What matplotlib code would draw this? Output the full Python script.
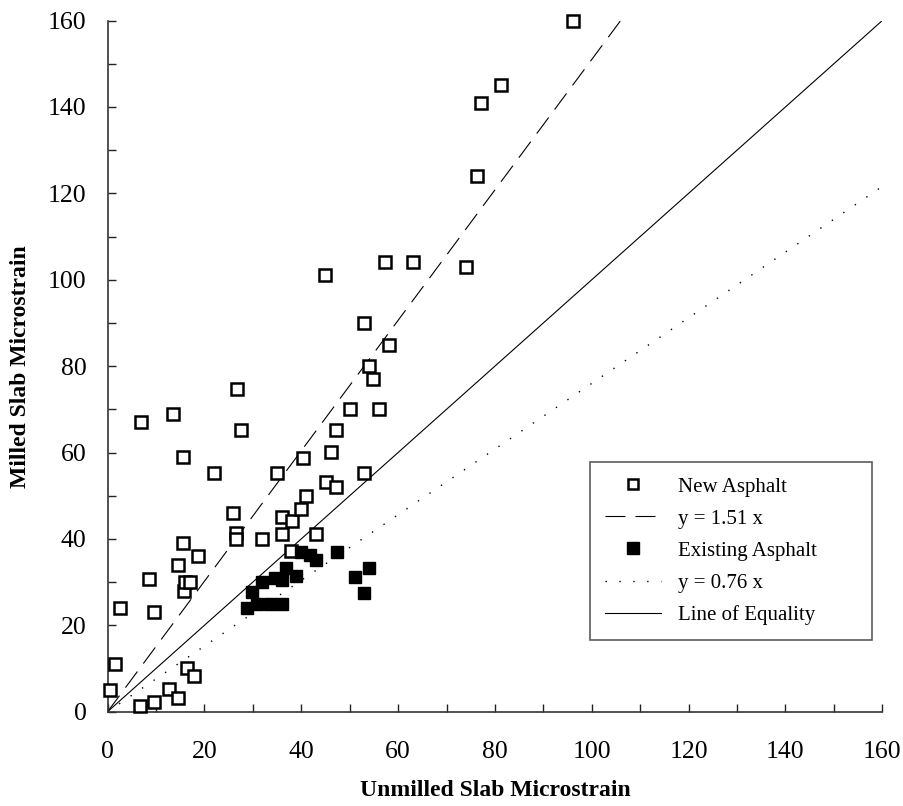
import matplotlib.pyplot as plt
import numpy as np

plt.rcParams['font.family'] = ['Liberation Serif', 'DejaVu Serif']

# New Asphalt (open squares)
new_x = [0.5, 1.5, 2.5, 6.7, 7, 8.5, 9.6, 9.5, 12.7, 13.5, 14.6, 14.6, 15.7, 16, 15.6, 15.5,
         16.5, 17, 17.8, 18.7, 22, 25.8, 26.6, 26.6, 26.8, 27.6, 31.9, 35, 36.1, 36.1, 38,
         37.8, 40, 40.4, 41, 43.1, 45, 45.2, 46.1, 47.2, 47.1, 50, 53, 53, 54, 54.9, 56.1,
         57.3, 58.1, 63, 74, 76.2, 77.1, 81.2, 96.2]
new_y = [5, 11, 24, 1.3, 67, 30.8, 2.3, 23, 5.2, 69, 3.2, 34, 28, 30, 39, 59,
         10.2, 30, 8.2, 36, 55.2, 46, 41.3, 40, 74.6, 65.2, 40, 55.3, 41.2, 45, 44.1,
         37.2, 47, 58.8, 50, 41.2, 101, 53.2, 60.2, 52.1, 65.1, 70, 55.3, 90, 80, 77, 70,
         104, 85, 104, 103, 124, 141, 145, 160]

# Existing Asphalt (filled squares)
old_x = [28.7, 30.8, 29.8, 31.9, 33.6, 36.1, 34.5, 36.8, 38.9, 36, 39.9, 41.9, 43.1,
         47.3, 51, 53, 54]
old_y = [24, 25, 27.7, 30, 25, 25, 31, 33.3, 31.3, 30.5, 37, 36.3, 35.2,
         37, 31.2, 27.4, 33.2]

slope_new = 1.51
slope_old = 0.76

fig = plt.figure(figsize=(9.04, 8.06), dpi=100)
ax = fig.add_axes([0.119, 0.117, 0.857, 0.8575])

ax.plot(new_x, new_y, linestyle='none', marker='s', markersize=8.5, markerfacecolor='white',
        markeredgecolor='black', markeredgewidth=1.8, label='New Asphalt', clip_on=False, zorder=3)
xs = np.array([0, 160 / slope_new])
ax.plot(xs, slope_new * xs, color='black', linewidth=0.8, linestyle=(0, (18, 9)),
        label='y = 1.51 x')
ax.plot(old_x, old_y, linestyle='none', marker='s', markersize=9, markerfacecolor='black',
        markeredgecolor='black', markeredgewidth=1, label='Existing Asphalt', zorder=3)
xs = np.array([0, 160])
ax.plot(xs, slope_old * xs, color='black', linewidth=1, linestyle=(0, (1, 9)),
        label='y = 0.76 x')
ax.plot(xs, xs, color='black', linewidth=0.8, label='Line of Equality')

ax.set_xlim(0, 160)
ax.set_ylim(0, 160)
ax.set_xticks(np.arange(0, 161, 20))
ax.set_yticks(np.arange(0, 161, 20))
ax.set_xticks(np.arange(0, 161, 10), minor=True)
ax.set_yticks(np.arange(0, 161, 10), minor=True)
ax.tick_params(which='both', direction='in', length=6, width=1, colors='#222222')
ax.tick_params(axis='x', labelsize=18.5, pad=21, labelcolor='black')
ax.tick_params(axis='y', labelsize=18.5, pad=15, labelcolor='black')

for side in ['top', 'right']:
    ax.spines[side].set_visible(False)
for side in ['left', 'bottom']:
    ax.spines[side].set_linewidth(1.2)
    ax.spines[side].set_color('#333333')

ax.set_xlabel('Unmilled Slab Microstrain', fontsize=17, fontweight='bold', labelpad=12)
ax.set_ylabel('Milled Slab Microstrain', fontsize=17, fontweight='bold', labelpad=12)

leg = ax.legend(loc='lower left', bbox_to_anchor=(0.623, 0.104, 0.364, 0.247), mode='expand',
                borderaxespad=0, fontsize=15, frameon=True, fancybox=False, edgecolor='#333333',
                handlelength=2.7, handletextpad=0.8, labelspacing=0.6, borderpad=0.7,
                markerscale=0.9)
leg.get_frame().set_linewidth(1.2)

fig.savefig('out.png', dpi=100)
